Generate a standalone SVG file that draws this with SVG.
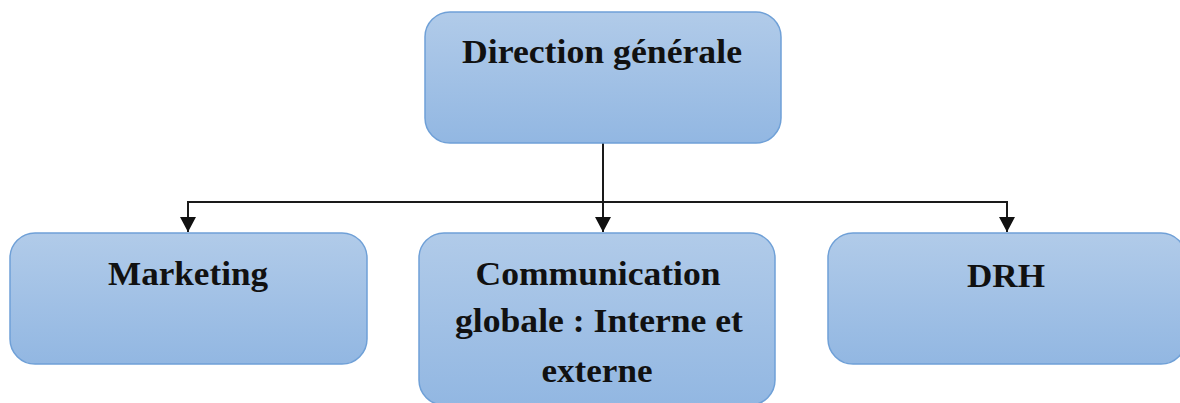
<svg xmlns="http://www.w3.org/2000/svg" width="1180" height="403" viewBox="0 0 1180 403">
  <defs>
    <linearGradient id="boxFill" x1="0" y1="0" x2="0" y2="1">
      <stop offset="0" stop-color="#b1cbe9"/>
      <stop offset="1" stop-color="#92b7e2"/>
    </linearGradient>
    <!-- arrowhead drawn along +x; orient="auto" turns it to follow the line -->
    <marker id="arrow" viewBox="0 0 15 16" refX="15" refY="8" markerWidth="15" markerHeight="16" markerUnits="userSpaceOnUse" orient="auto">
      <path d="M0,0 L15,8 L0,16 Z" fill="#111"/>
    </marker>
    <style>
      .box { fill: url(#boxFill); stroke: #6fa0d7; stroke-width: 1.5; }
      .label { font-family: "Liberation Serif", "Times New Roman", serif; font-weight: bold; font-size: 33px; fill: #111; text-anchor: middle; }
      .conn { fill: none; stroke: #1a1a1a; stroke-width: 2; }
    </style>
  </defs>

  <!-- connectors -->
  <g id="connectors">
    <line class="conn" x1="603" y1="143" x2="603" y2="202"/>
    <line class="conn" x1="187" y1="202" x2="1008" y2="202"/>
    <path class="conn" d="M603,202 L603,232" marker-end="url(#arrow)"/>
    <path class="conn" d="M188,201 L188,232" marker-end="url(#arrow)"/>
    <path class="conn" d="M1007,201 L1007,232" marker-end="url(#arrow)"/>
  </g>

  <g id="direction-generale">
    <rect class="box" x="425" y="12" width="356" height="131" rx="25" ry="25"/>
    <text class="label" x="602" y="63" textLength="280" lengthAdjust="spacingAndGlyphs">Direction générale</text>
  </g>

  <g id="marketing">
    <rect class="box" x="10" y="233" width="357" height="131" rx="25" ry="25"/>
    <text class="label" x="188" y="285" textLength="160" lengthAdjust="spacingAndGlyphs">Marketing</text>
  </g>

  <g id="communication-globale">
    <rect class="box" x="419" y="233" width="356" height="172" rx="25" ry="25"/>
    <text class="label" x="598" y="285" textLength="245" lengthAdjust="spacingAndGlyphs">Communication</text>
    <text class="label" x="599" y="332" textLength="288" lengthAdjust="spacingAndGlyphs">globale : Interne et</text>
    <text class="label" x="597" y="382" textLength="111" lengthAdjust="spacingAndGlyphs">externe</text>
  </g>

  <g id="drh">
    <rect class="box" x="828" y="233" width="358" height="131" rx="25" ry="25"/>
    <text class="label" x="1006" y="287" textLength="78" lengthAdjust="spacingAndGlyphs">DRH</text>
  </g>
</svg>
